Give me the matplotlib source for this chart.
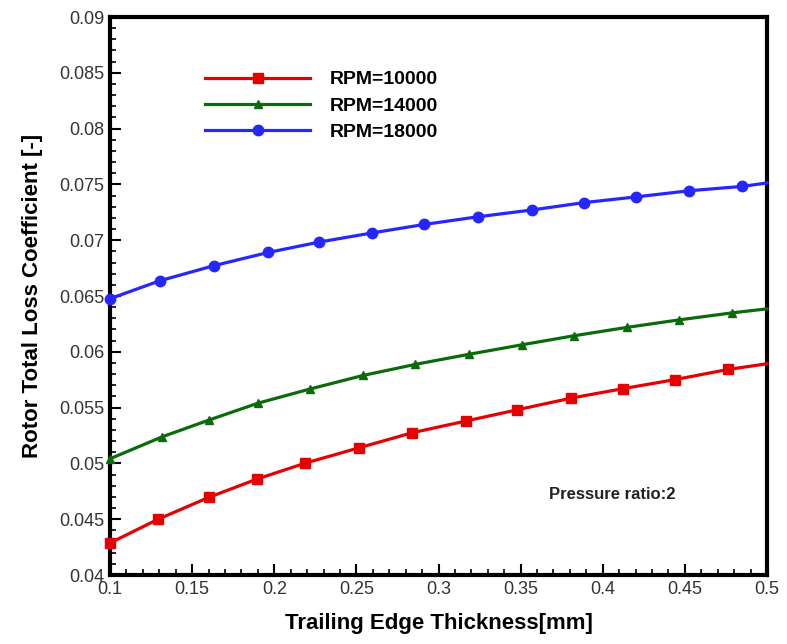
import matplotlib.pyplot as plt
from matplotlib.ticker import MultipleLocator

# Trailing edge thickness [mm] at the marker positions (last point = line end)
x_10000 = [0.1, 0.129, 0.160, 0.1895, 0.219, 0.2516, 0.284, 0.3167, 0.3478, 0.3807, 0.4123, 0.444, 0.4763, 0.5]
x_14000 = [0.1, 0.1317, 0.1603, 0.1901, 0.2218, 0.254, 0.2857, 0.3186, 0.3508, 0.3825, 0.4148, 0.4464, 0.4787, 0.5]
x_18000 = [0.1, 0.1304, 0.1633, 0.1962, 0.2272, 0.2595, 0.2912, 0.324, 0.3569, 0.3886, 0.4202, 0.4525, 0.4848, 0.5]

# Rotor total loss coefficient [-]
loss_10000 = [0.04287, 0.04498, 0.04695, 0.0486, 0.05003, 0.0514, 0.05275, 0.0538, 0.0548,
              0.05585, 0.0567, 0.05751, 0.05842, 0.05893]
loss_14000 = [0.05042, 0.05238, 0.05389, 0.0554, 0.05667, 0.05788, 0.05887, 0.05978, 0.06063,
              0.06144, 0.06219, 0.06286, 0.06349, 0.06385]
loss_18000 = [0.06476, 0.06637, 0.06772, 0.0689, 0.06983, 0.07065, 0.07141, 0.0721, 0.07271,
              0.07337, 0.07388, 0.07443, 0.07482, 0.07513]

labels = ["RPM=10000", "RPM=14000", "RPM=18000"]

plt.rcParams['font.family'] = ['Liberation Sans', 'DejaVu Sans']

fig = plt.figure(figsize=(7.87, 6.44), dpi=100)
ax = fig.add_axes([0.1398, 0.1071, 0.8348, 0.8665])

marks = list(range(13))  # no marker on the closing point at x=0.5
ax.plot(x_10000, loss_10000, color='#e60000', lw=2.3, marker='s', ms=7,
        markevery=marks, label=labels[0], clip_on=False, zorder=3)
ax.plot(x_14000, loss_14000, color='#0b6b0b', lw=2.3, marker='^', ms=6,
        markevery=marks, label=labels[1], clip_on=False, zorder=3)
ax.plot(x_18000, loss_18000, color='#2626ff', lw=2.3, marker='o', ms=7.5,
        markevery=marks, label=labels[2], clip_on=False, zorder=3)

ax.set_xlim(0.1, 0.5)
ax.set_ylim(0.04, 0.09)
ax.xaxis.set_minor_locator(MultipleLocator(0.01))
ax.yaxis.set_minor_locator(MultipleLocator(0.001))
ax.set_xticks([0.1, 0.15, 0.2, 0.25, 0.3, 0.35, 0.4, 0.45, 0.5])
ax.set_xticklabels(['0.1', '0.15', '0.2', '0.25', '0.3', '0.35', '0.4', '0.45', '0.5'])
ax.set_yticks([0.04, 0.045, 0.05, 0.055, 0.06, 0.065, 0.07, 0.075, 0.08, 0.085, 0.09])
ax.set_yticklabels(['0.04', '0.045', '0.05', '0.055', '0.06', '0.065', '0.07', '0.075',
                    '0.08', '0.085', '0.09'])

ax.tick_params(which='major', direction='in', length=8, width=1.5, labelsize=13,
               labelcolor='#333333', pad=4)
ax.tick_params(which='minor', direction='in', length=4, width=1.2)

for side in ['left', 'bottom', 'right', 'top']:
    ax.spines[side].set_linewidth(3)

ax.set_xlabel('Trailing Edge Thickness[mm]', fontsize=16, fontweight='bold', labelpad=11)
ax.set_ylabel('Rotor Total Loss Coefficient [-]', fontsize=16, fontweight='bold', labelpad=12)

ax.text(0.406, 0.0472, 'Pressure ratio:2', fontsize=12, fontweight='bold',
        ha='center', va='center', color='#222222')

ax.legend(loc='upper left', bbox_to_anchor=(0.118, 0.935), frameon=False, handlelength=5.4,
          numpoints=1, prop={'weight': 'bold', 'size': 14}, labelspacing=0.45,
          handletextpad=1.0)

fig.savefig('out.png', dpi=100)
